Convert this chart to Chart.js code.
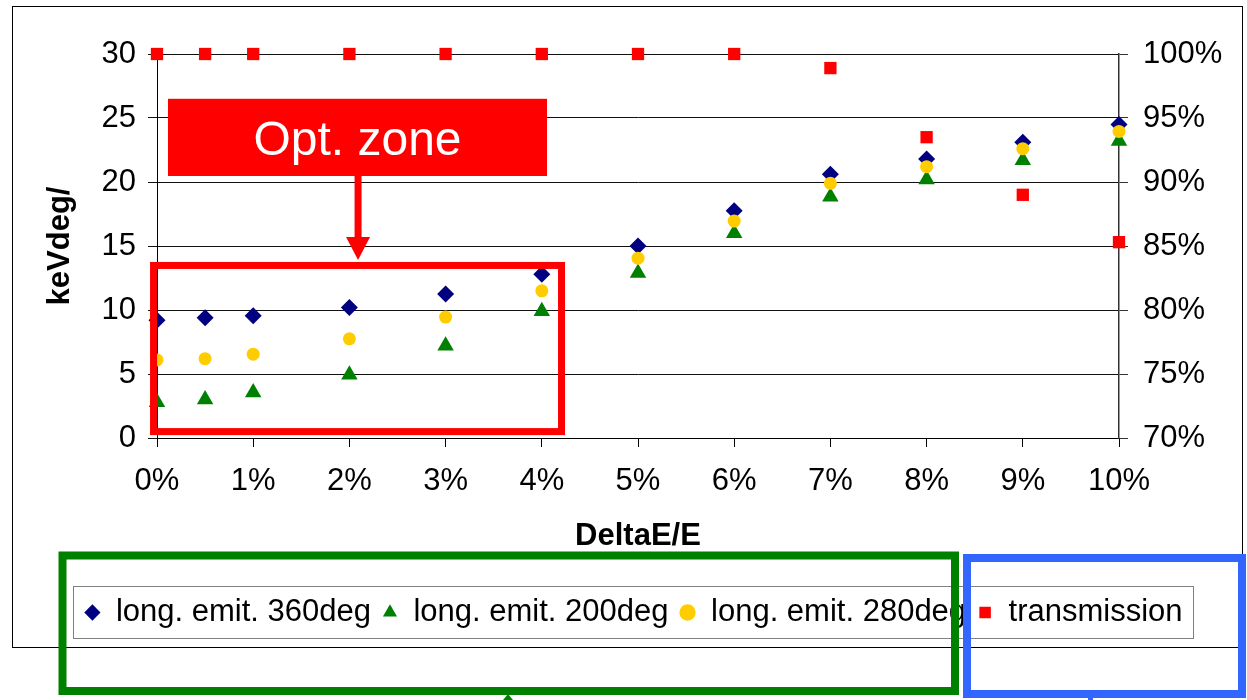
<!DOCTYPE html>
<html lang="en">
<head>
<meta charset="UTF-8">
<title>Longitudinal emittance vs DeltaE/E</title>
<script src="https://cdn.jsdelivr.net/npm/chart.js"></script>
<style>
    body { margin: 0; background: #fff; }
</style>
</head>
<body>

<div style="width: 1247px; height: 700px;">
    <canvas id="emitChart"></canvas>
</div>

<script>
    // DeltaE/E in %
    var deltaE = [0, 0.5, 1, 2, 3, 4, 5, 6, 7, 8, 9, 10];
    // keVdeg/u
    var emit360 = [9.2, 9.4, 9.55, 10.2, 11.25, 12.8, 15.0, 17.75, 20.6, 21.8, 23.1, 24.5];
    var emit200 = [2.8, 3.0, 3.55, 4.95, 7.2, 9.9, 12.9, 16.0, 18.85, 20.2, 21.7, 23.2];
    var emit280 = [6.1, 6.2, 6.55, 7.75, 9.45, 11.5, 14.05, 16.95, 19.9, 21.2, 22.6, 23.95];
    // transmission in %
    var transmission = [100, 100, 100, 100, 100, 100, 100, 100, 98.9, 93.5, 89.0, 85.3];

    var seriesNames = ['long. emit. 360deg', 'long. emit. 200deg', 'long. emit. 280deg', 'transmission'];

    function pts(ys) {
        return deltaE.map(function (x, i) { return { x: x, y: ys[i] }; });
    }

    var FONT = 'Liberation Sans, Arial, sans-serif';

    var overlay = {
        id: 'overlay',
        beforeDraw: function (chart) {
            var ctx = chart.ctx;
            ctx.save();
            ctx.fillStyle = '#fff';
            ctx.fillRect(0, 0, chart.width, chart.height);
            ctx.strokeStyle = '#000';
            ctx.lineWidth = 1;
            ctx.strokeRect(12.5, 6.5, 1230, 641);
            ctx.restore();
        },
        afterDraw: function (chart) {
            var ctx = chart.ctx;
            var x = chart.scales.x, y = chart.scales.y;
            ctx.save();

            // legend frame
            var lg = chart.legend, hb = lg.legendHitBoxes;
            var last = hb[hb.length - 1];
            var l0 = hb[0].left - 11, l1 = last.left + last.width + 11;
            ctx.strokeStyle = '#808080';
            ctx.lineWidth = 1;
            ctx.strokeRect(Math.round(l0) + 0.5, lg.top + 0.5, Math.round(l1 - l0), lg.height);

            // optimum zone
            ctx.strokeStyle = '#ff0000';
            ctx.lineWidth = 7;
            var zx0 = x.getPixelForValue(-0.036), zx1 = x.getPixelForValue(4.205);
            var zy0 = y.getPixelForValue(13.48), zy1 = y.getPixelForValue(0.5);
            ctx.strokeRect(zx0, zy0, zx1 - zx0, zy1 - zy0);

            // label box
            var bx0 = x.getPixelForValue(0.114), bx1 = x.getPixelForValue(4.054);
            var by0 = y.getPixelForValue(26.5), by1 = y.getPixelForValue(20.47);
            ctx.fillStyle = '#ff0000';
            ctx.fillRect(bx0, by0, bx1 - bx0, by1 - by0);
            ctx.fillStyle = '#fff';
            ctx.font = '48px ' + FONT;
            ctx.textAlign = 'center';
            ctx.textBaseline = 'alphabetic';
            ctx.fillText('Opt. zone', (bx0 + bx1) / 2, (by0 + by1) / 2 + 18);

            // arrow
            var ax = x.getPixelForValue(2.09);
            var tip = y.getPixelForValue(13.9);
            ctx.fillStyle = '#ff0000';
            ctx.fillRect(ax - 3.5, by1, 7, tip - 22 - by1);
            ctx.beginPath();
            ctx.moveTo(ax - 12, tip - 23);
            ctx.lineTo(ax + 12, tip - 23);
            ctx.lineTo(ax, tip);
            ctx.closePath();
            ctx.fill();

            // highlight boxes round the legend
            ctx.lineWidth = 8;
            ctx.strokeStyle = '#008000';
            ctx.strokeRect(62.5, 555.5, 892.5, 135.5);
            ctx.fillStyle = '#008000';
            ctx.beginPath();
            ctx.moveTo(508, 694);
            ctx.lineTo(503, 700);
            ctx.lineTo(513, 700);
            ctx.closePath();
            ctx.fill();

            ctx.strokeStyle = '#3366ff';
            ctx.strokeRect(967, 558, 275, 136);
            ctx.fillStyle = '#3366ff';
            ctx.fillRect(1088, 697, 5, 3);

            ctx.restore();
        }
    };

    var ctx = document.getElementById('emitChart').getContext('2d');

    var emitChart = new Chart(ctx, {
        type: 'scatter',
        data: {
            datasets: [{
                label: seriesNames[0],
                data: pts(emit360),
                yAxisID: 'y',
                pointStyle: 'rectRot',
                pointRadius: 8.5,
                backgroundColor: '#000080',
                borderColor: '#000080',
                borderWidth: 0,
                order: 1,
                clip: false
            }, {
                label: seriesNames[1],
                data: pts(emit200),
                yAxisID: 'y',
                pointStyle: 'triangle',
                pointRadius: 9.5,
                backgroundColor: '#008000',
                borderColor: '#008000',
                borderWidth: 0,
                order: 2,
                clip: false
            }, {
                label: seriesNames[2],
                data: pts(emit280),
                yAxisID: 'y',
                pointStyle: 'circle',
                pointRadius: 6.5,
                backgroundColor: '#ffcc00',
                borderColor: '#ffcc00',
                borderWidth: 0,
                order: 0,
                clip: false
            }, {
                label: seriesNames[3],
                data: pts(transmission),
                yAxisID: 'y2',
                pointStyle: 'rect',
                pointRadius: 8.7,
                backgroundColor: '#ff0000',
                borderColor: '#ff0000',
                borderWidth: 0,
                order: 3,
                clip: false
            }]
        },
        options: {
            responsive: true,
            maintainAspectRatio: false,
            animation: false,
            layout: {
                padding: { left: 30, right: 10, top: 54, bottom: 62 }
            },
            scales: {
                x: {
                    type: 'linear',
                    min: 0,
                    max: 10,
                    afterFit: function (s) { s.height = 148; },
                    ticks: {
                        stepSize: 1,
                        padding: 16,
                        color: '#000',
                        font: { family: FONT, size: 31 },
                        callback: function (v) { return v + '%'; }
                    },
                    grid: { drawOnChartArea: false, tickLength: 9, color: '#000' },
                    border: { color: '#000', width: 1 },
                    title: {
                        display: true,
                        text: 'DeltaE/E',
                        color: '#000',
                        font: { family: FONT, size: 31, weight: 'bold' },
                        padding: { top: 0, bottom: 31 }
                    }
                },
                y: {
                    position: 'left',
                    min: 0,
                    max: 30,
                    afterFit: function (s) { s.width = 127; },
                    ticks: {
                        stepSize: 5,
                        padding: 12,
                        color: '#000',
                        font: { family: FONT, size: 31 }
                    },
                    grid: { color: '#111', tickLength: 9 },
                    border: { color: '#000', width: 1 },
                    title: {
                        display: true,
                        text: 'keVdeg/',
                        color: '#000',
                        font: { family: FONT, size: 31, weight: 'bold' },
                        padding: { top: 12, bottom: 0 }
                    }
                },
                y2: {
                    position: 'right',
                    min: 70,
                    max: 100,
                    afterFit: function (s) { s.width = 118; },
                    ticks: {
                        stepSize: 5,
                        padding: 15,
                        color: '#000',
                        font: { family: FONT, size: 31 },
                        callback: function (v) { return v + '%'; }
                    },
                    grid: { drawOnChartArea: false, color: '#333', tickLength: 9 },
                    border: { color: '#333', width: 1.5 }
                }
            },
            plugins: {
                legend: {
                    display: true,
                    position: 'bottom',
                    labels: {
                        usePointStyle: true,
                        boxWidth: 16,
                        boxHeight: 11.5,
                        padding: 11,
                        color: '#000',
                        font: { family: FONT, size: 31 },
                        sort: function (a, b) { return a.datasetIndex - b.datasetIndex; }
                    }
                },
                tooltip: { enabled: false }
            }
        },
        plugins: [overlay]
    });
</script>

</body>
</html>
